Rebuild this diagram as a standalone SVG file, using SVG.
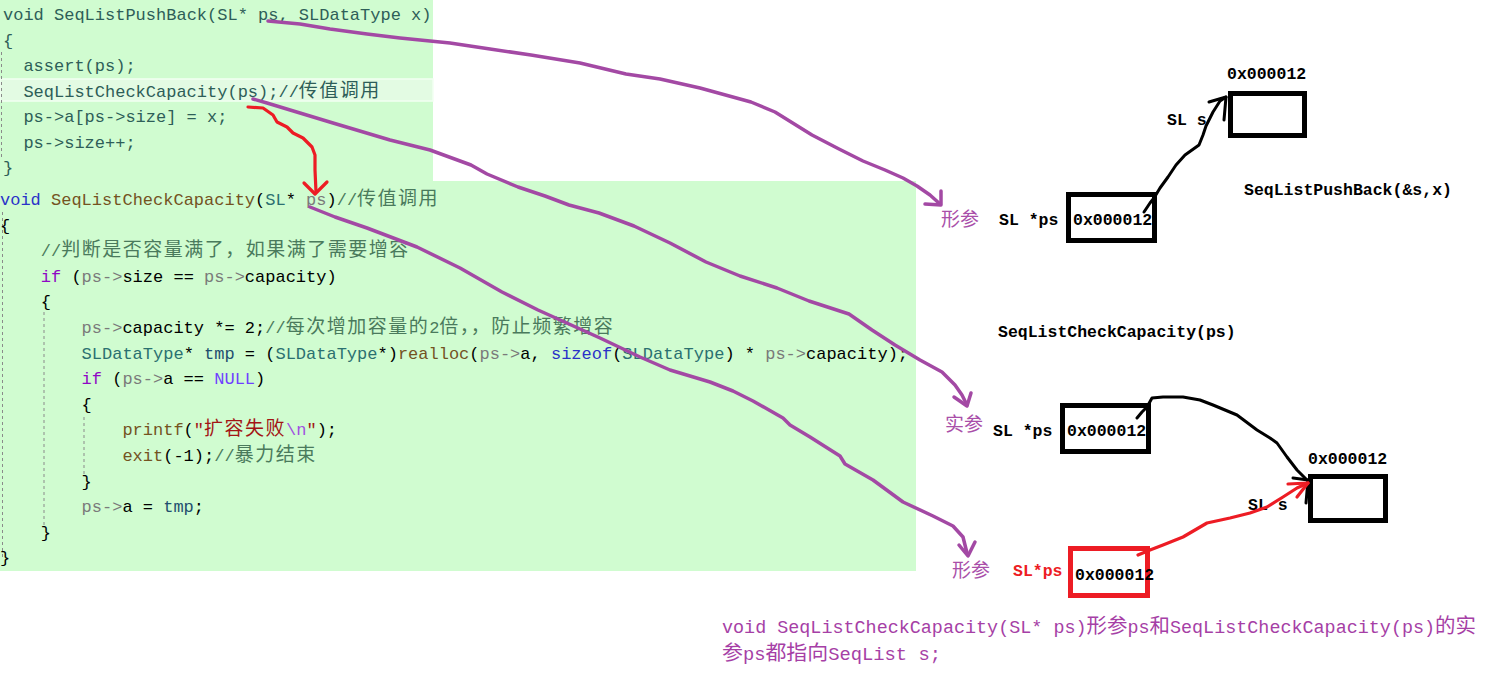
<svg xmlns="http://www.w3.org/2000/svg" width="1487" height="696" viewBox="0 0 1487 696" xml:space="preserve">
<style>
.code{font-family:"Liberation Mono","Noto Sans CJK SC",monospace;font-size:17px;}
.top{fill:#2e5e58;}
.cj{font-family:"Noto Sans CJK SC",sans-serif;font-size:19px;letter-spacing:1.5px;}
.kw{fill:#2a32c8;}
.fn{fill:#74531f;}
.ty{fill:#2b7070;}
.pa{fill:#7a7a7a;}
.cm{fill:#4a7a5c;}
.ctl{fill:#8f08c4;}
.mac{fill:#6f3fff;}
.str{fill:#a31515;}
.esc{fill:#a050e0;}
.loc{fill:#1f4f6f;}
.blk{fill:#000000;}
.lbl{font-family:"Liberation Mono",monospace;font-weight:bold;font-size:16.5px;fill:#000;}
.zh{font-family:"Noto Sans CJK SC",sans-serif;font-size:19px;fill:#a94fa9;}
.note{font-family:"Liberation Mono","Noto Sans CJK SC",monospace;font-size:18px;fill:#a63fa6;}
.ncj{font-family:"Noto Sans CJK SC",sans-serif;font-size:20px;}
.box{fill:none;stroke:#000;stroke-width:5;}
.rbox{fill:none;stroke:#ed1c24;stroke-width:5;}
.guide{stroke:#8a8a8a;stroke-width:1;stroke-dasharray:3 3;fill:none;}
.pp{fill:none;stroke:#a349a4;stroke-width:3.5;stroke-linejoin:round;stroke-linecap:round;}
.rd{fill:none;stroke:#ed1c24;stroke-width:3.2;stroke-linejoin:round;stroke-linecap:round;}
.bk{fill:none;stroke:#000;stroke-width:3;stroke-linejoin:round;stroke-linecap:round;}
</style>
<rect x="0" y="0" width="1487" height="696" fill="#ffffff"/>

<g id="code-pushback">
<rect x="0" y="0" width="433" height="181" fill="#d0fcd0"/>
<rect x="0" y="79" width="433" height="22" fill="#e3fbe3" stroke="#f2fff2" stroke-width="1.5"/>
<line x1="1.5" y1="52" x2="1.5" y2="160" class="guide" stroke="#b0b0b0"/>
<text class="code top" x="3" y="20">void SeqListPushBack(SL* ps, SLDataType x)</text>
<text class="code top" x="3" y="45.5">{</text>
<text class="code top" x="23.4" y="71">assert(ps);</text>
<text class="code top" x="23.4" y="96.5">SeqListCheckCapacity(ps);//<tspan class="cj">传值调用</tspan></text>
<text class="code top" x="23.4" y="122">ps-&gt;a[ps-&gt;size] = x;</text>
<text class="code top" x="23.4" y="147.5">ps-&gt;size++;</text>
<text class="code top" x="3" y="173">}</text>
</g>

<g id="code-checkcapacity">
<rect x="0" y="181" width="916" height="390" fill="#d0fcd0"/>
<line x1="2.5" y1="212" x2="2.5" y2="560" class="guide"/>
<line x1="44" y1="312" x2="44" y2="528" class="guide"/>
<line x1="84" y1="417" x2="84" y2="474" class="guide"/>
<text class="code" x="0" y="205"><tspan class="kw">void</tspan> <tspan class="fn">SeqListCheckCapacity</tspan><tspan class="blk">(</tspan><tspan class="ty">SL</tspan><tspan class="blk">* </tspan><tspan class="pa">ps</tspan><tspan class="blk">)</tspan><tspan class="cm">//</tspan><tspan class="cj cm">传值调用</tspan></text>
<text class="code blk" x="0" y="230.6">{</text>
<text class="code cm" x="40.8" y="256.2">//<tspan class="cj">判断是否容量满了，如果满了需要增容</tspan></text>
<text class="code blk" x="40.8" y="281.8"><tspan class="ctl">if</tspan> (<tspan class="pa">ps-&gt;</tspan>size == <tspan class="pa">ps-&gt;</tspan>capacity)</text>
<text class="code blk" x="40.8" y="307.4">{</text>
<text class="code blk" x="81.6" y="333"><tspan class="pa">ps-&gt;</tspan>capacity *= 2;<tspan class="cm">//</tspan><tspan class="cj cm">每次增加容量的</tspan><tspan class="cm">2</tspan><tspan class="cj cm">倍，，防止频繁增容</tspan></text>
<text class="code blk" x="81.6" y="358.6"><tspan class="ty">SLDataType</tspan>* <tspan class="loc">tmp</tspan> = (<tspan class="ty">SLDataType</tspan>*)<tspan class="fn">realloc</tspan>(<tspan class="pa">ps-&gt;</tspan>a, <tspan class="kw">sizeof</tspan>(<tspan class="ty">SLDataType</tspan>) * <tspan class="pa">ps-&gt;</tspan>capacity);</text>
<text class="code blk" x="81.6" y="384.2"><tspan class="ctl">if</tspan> (<tspan class="pa">ps-&gt;</tspan>a == <tspan class="mac">NULL</tspan>)</text>
<text class="code blk" x="81.6" y="409.8">{</text>
<text class="code blk" x="122.4" y="435.4"><tspan class="fn">printf</tspan>(<tspan class="str">"</tspan><tspan class="cj str">扩容失败</tspan><tspan class="esc">\n</tspan><tspan class="str">"</tspan>);</text>
<text class="code blk" x="122.4" y="461"><tspan class="fn">exit</tspan>(-1);<tspan class="cm">//</tspan><tspan class="cj cm">暴力结束</tspan></text>
<text class="code blk" x="81.6" y="486.6">}</text>
<text class="code blk" x="81.6" y="512.2"><tspan class="pa">ps-&gt;</tspan>a = <tspan class="loc">tmp</tspan>;</text>
<text class="code blk" x="40.8" y="537.8">}</text>
<text class="code blk" x="0" y="563.4">}</text>
</g>

<g id="node-s-top">
<text class="lbl" x="1227" y="79">0x000012</text>
<rect class="box" x="1230.5" y="93.5" width="74" height="42"/>
<text class="lbl" x="1167" y="125">SL s</text>
</g>

<g id="node-ps-formal-top">
<text class="zh" x="941" y="226">形参</text>
<text class="lbl" x="999" y="225">SL *ps</text>
<rect class="box" x="1068.5" y="194.5" width="86" height="46"/>
<text class="lbl" x="1073" y="225">0x000012</text>
</g>

<g id="call-pushback">
<text class="lbl" x="1244" y="195">SeqListPushBack(&amp;s,x)</text>
</g>

<g id="call-checkcapacity">
<text class="lbl" x="998" y="337">SeqListCheckCapacity(ps)</text>
</g>

<g id="node-ps-actual">
<text class="zh" x="945" y="431">实参</text>
<text class="lbl" x="993" y="436">SL *ps</text>
<rect class="box" x="1062.5" y="405.5" width="86" height="46"/>
<text class="lbl" x="1067" y="436">0x000012</text>
</g>

<g id="node-s-bottom">
<text class="lbl" x="1308" y="464">0x000012</text>
<rect class="box" x="1310.5" y="476.5" width="75" height="44"/>
<text class="lbl" x="1248" y="510">SL s</text>
</g>

<g id="node-ps-formal-bottom">
<text class="zh" x="952" y="577">形参</text>
<text class="lbl" x="1013" y="576" fill="#ed1c24" style="fill:#ed1c24">SL*ps</text>
<rect class="rbox" x="1070.5" y="548.5" width="77" height="47"/>
<text class="lbl" x="1075" y="580">0x000012</text>
</g>

<g id="connectors">
<path class="pp" d="M268,21 L300,24 L330,29 L367,34 L400,38 L450,43 L490,49 L531,55 L580,63 L626,74 L660,79 L700,88 L751,102 L775,112 L812,135 L839,149 L863,161 L885,170 L903,178 L917,186 L930,195 L940,204"/>
<path class="pp" d="M925,204 L941,205 L941,191"/>
<path class="pp" d="M253,99 L267,103 L300,113 L333,123 L390,140 L430,150 L471,165 L487,174 L518,187 L545,196 L569,205 L599,213 L634,226 L670,243 L706,262 L740,276 L777,288 L809,301 L849,314 L872,330 L895,345 L920,360 L942,372 L955,385 L962,395 L967,405"/>
<path class="pp" d="M954,397 L967,406 L971,393"/>
<path class="pp" d="M310,207 L335,217 L367,228 L417,247 L460,268 L502,292 L538,310 L600,338 L640,357 L670,370 L710,382 L733,391 L753,401 L783,418 L790,425 L810,437 L840,456 L845,464 L873,480 L903,502 L933,516 L953,526 L963,537 L967,553"/>
<path class="pp" d="M959,545 L968,556 L975,542"/>
<path class="rd" d="M248,107 L263,108 L273,115 L277,122 L287,127 L293,133 L303,138 L312,147 L315,155 L315,170 L316,192"/>
<path class="rd" d="M304,183 L315,194 L327,182"/>
<path class="bk" d="M1144,212 L1150,203 L1154,198 L1160,188 L1168,177 L1176,165 L1185,155 L1199,145 L1203,135 L1206,126 L1213,112 L1220,101 L1226,97"/>
<path class="bk" d="M1209,102 L1226,97 L1224,120"/>
<path class="bk" d="M1137,418 L1142,412 L1147,407 L1152,398 L1163,397 L1183,397 L1200,400 L1213,405 L1237,415 L1257,430 L1270,438 L1277,443 L1287,457 L1297,470 L1307,480"/>
<path class="bk" d="M1293,478 L1308,480 L1306,503"/>
<path class="rd" d="M1138,555 L1150,550 L1163,545 L1183,537 L1207,523 L1230,518 L1250,513 L1267,507 L1283,497 L1297,488 L1308,483"/>
<path class="rd" d="M1288,484 L1308,483 L1297,497"/>
</g>

<g id="note">
<text class="note" x="722" y="633" textLength="754" lengthAdjust="spacingAndGlyphs">void SeqListCheckCapacity(SL* ps)<tspan class="ncj">形参</tspan>ps<tspan class="ncj">和</tspan>SeqListCheckCapacity(ps)<tspan class="ncj">的实</tspan></text>
<text class="note" x="722" y="660" textLength="219" lengthAdjust="spacingAndGlyphs"><tspan class="ncj">参</tspan>ps<tspan class="ncj">都指向</tspan>SeqList s;</text>
</g>
</svg>
